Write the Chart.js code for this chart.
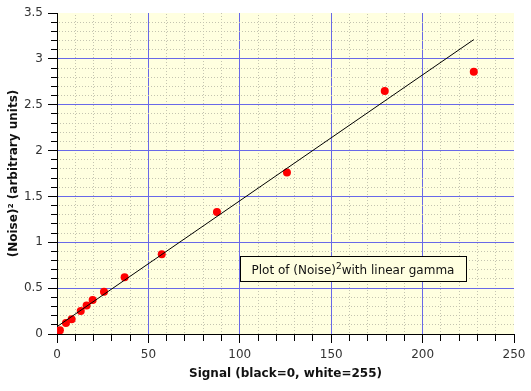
<!DOCTYPE html>
<html>
<head>
<meta charset="utf-8">
<script src="https://cdn.jsdelivr.net/npm/chart.js@4.4.0/dist/chart.umd.min.js"></script>
<style>
  html, body { margin: 0; padding: 0; background: #fff; }
  #wrap { width: 531px; height: 391px; }
</style>
</head>
<body>
<div id="wrap"><canvas id="noiseChart"></canvas></div>
<script>
// measured points
const signal = [1.6, 4.9, 8.0, 13.0, 16.2, 19.5, 25.7, 37.0, 57.3, 87.5, 125.8, 179.3, 228.0];
const noiseSq = [0.04, 0.12, 0.16, 0.25, 0.31, 0.37, 0.46, 0.62, 0.87, 1.33, 1.76, 2.65, 2.86];
// straight-line fit
const fitX = [0, 228];
const fitY = [0.08, 3.21];

const xMajor = [0, 50, 100, 150, 200, 250];
const yMajor = [0, 0.5, 1, 1.5, 2, 2.5, 3, 3.5];
const noteText = ['Plot of (Noise)', '2', 'with linear gamma'];

const bgColor = '#ffffe0';
const majorColor = '#6868e8';

// dotted minor grid: diagonal pixel pattern gives dots on any 1px line
function dotPattern() {
    const c = document.createElement('canvas');
    c.width = 3; c.height = 3;
    const g = c.getContext('2d');
    g.fillStyle = '#c4c4b0';
    for (let i = 0; i < 3; i++) g.fillRect(i, (3 - i) % 3, 1, 1);
    return document.getElementById('noiseChart').getContext('2d').createPattern(c, 'repeat');
}
const minorColor = dotPattern();

function isMajor(v, list) {
    return list.some(m => Math.abs(m - v) < 1e-6);
}

const plotBg = {
    id: 'plotBg',
    beforeDraw(chart) {
        const {ctx, chartArea: a} = chart;
        ctx.save();
        ctx.fillStyle = bgColor;
        ctx.fillRect(a.left, a.top, a.right - a.left, a.bottom - a.top);
        ctx.restore();
    }
};

const noteBox = {
    id: 'noteBox',
    afterDraw(chart) {
        const {ctx} = chart;
        const x = chart.scales.x, y = chart.scales.y;
        const left = Math.round(x.getPixelForValue(100)) + 0.5;
        const top = Math.round(y.getPixelForValue(0.855)) + 0.5;
        ctx.save();
        ctx.font = '12px "DejaVu Sans"';
        const w1 = ctx.measureText(noteText[0]).width;
        const w3 = ctx.measureText(noteText[2]).width;
        ctx.font = '9px "DejaVu Sans"';
        const w2 = ctx.measureText(noteText[1]).width;
        const boxW = Math.round(w1 + w2 + w3 + 23);
        const boxH = 25;
        ctx.fillStyle = bgColor;
        ctx.fillRect(left, top, boxW, boxH);
        ctx.strokeStyle = '#000';
        ctx.lineWidth = 1;
        ctx.strokeRect(left, top, boxW, boxH);
        ctx.fillStyle = '#111';
        ctx.textBaseline = 'alphabetic';
        let tx = left + 11;
        const base = top + 17;
        ctx.font = '12px "DejaVu Sans"';
        ctx.fillText(noteText[0], tx, base);
        tx += w1;
        ctx.font = '9px "DejaVu Sans"';
        ctx.fillText(noteText[1], tx, base - 5);
        tx += w2;
        ctx.font = '12px "DejaVu Sans"';
        ctx.fillText(noteText[2], tx, base);
        ctx.restore();
    }
};

const tickFont = {family: 'DejaVu Sans', size: 12};
const titleFont = {family: 'DejaVu Sans', size: 12, weight: 'bold'};

new Chart(document.getElementById('noiseChart'), {
    type: 'scatter',
    data: {
        datasets: [{
            type: 'line',
            data: fitX.map((v, i) => ({x: v, y: fitY[i]})),
            borderColor: '#000',
            borderWidth: 1,
            pointRadius: 0,
            fill: false,
            order: 0
        }, {
            data: signal.map((v, i) => ({x: v, y: noiseSq[i]})),
            backgroundColor: '#ff0000',
            borderWidth: 0,
            pointRadius: 4,
            order: 1
        }]
    },
    options: {
        responsive: true,
        maintainAspectRatio: false,
        animation: false,
        layout: {padding: {top: 13, right: 17, left: 0, bottom: 0}},
        plugins: {legend: {display: false}, tooltip: {enabled: false}},
        scales: {
            x: {
                type: 'linear',
                min: 0, max: 250,
                afterFit(s) { s.height = 57; },
                border: {color: '#000', width: 1},
                grid: {
                    color: c => c.tick.value === 0 || c.tick.value === 250 ? 'rgba(0,0,0,0)'
                        : (isMajor(c.tick.value, xMajor) ? majorColor : minorColor),
                    tickColor: '#000',
                    tickLength: 9,
                    tickBorderDash: c => isMajor(c.tick.value, xMajor) ? [] : [6, 100]
                },
                ticks: {
                    stepSize: 10,
                    autoSkip: false,
                    maxRotation: 0,
                    padding: 5,
                    color: '#333',
                    font: tickFont,
                    callback: v => isMajor(v, xMajor) ? String(v) : ''
                },
                title: {
                    display: true,
                    text: 'Signal (black=0, white=255)',
                    color: '#111',
                    font: titleFont,
                    padding: {top: 2, bottom: 10}
                }
            },
            y: {
                type: 'linear',
                min: 0, max: 3.5,
                afterFit(s) { s.width = 57; },
                border: {color: '#000', width: 1},
                grid: {
                    color: c => Math.abs(c.tick.value) < 1e-6 || Math.abs(c.tick.value - 3.5) < 1e-6 ? 'rgba(0,0,0,0)'
                        : (isMajor(c.tick.value, yMajor) ? majorColor : minorColor),
                    tickColor: '#000',
                    tickLength: 9,
                    tickBorderDash: c => isMajor(c.tick.value, yMajor) ? [] : [0, 3, 6, 100]
                },
                ticks: {
                    stepSize: 0.1,
                    autoSkip: false,
                    padding: 5,
                    color: '#333',
                    font: tickFont,
                    callback: v => isMajor(v, yMajor) ? String(Math.round(v * 10) / 10) : ''
                },
                title: {
                    display: true,
                    text: '(Noise)² (arbitrary units)',
                    color: '#111',
                    font: titleFont,
                    padding: {top: 7, bottom: 0}
                }
            }
        }
    },
    plugins: [plotBg, noteBox]
});
</script>
</body>
</html>
